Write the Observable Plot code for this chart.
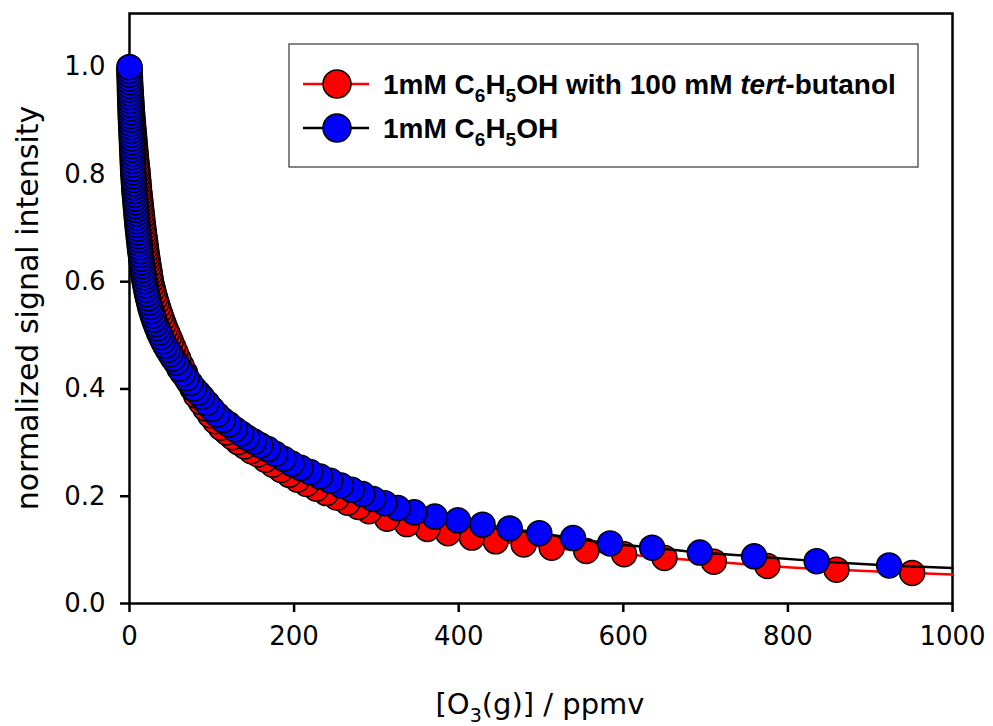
<!DOCTYPE html>
<html><head><meta charset="utf-8">
<script src="https://cdn.jsdelivr.net/npm/d3@7"></script>
<script src="https://cdn.jsdelivr.net/npm/@observablehq/plot@0.6"></script>
<style>body{margin:0;background:#fff} svg{display:block}</style>
</head><body><div id="chart"></div>
<script>
// ---- data ----
const xTicks = [0, 200, 400, 600, 800, 1000];
const yTicks = [0, 0.2, 0.4, 0.6, 0.8, 1.0];
const xLabelMain = "[O", xLabelSub = "3", xLabelRest = "(g)] / ppmv";
const yLabel = "normalized signal intensity";

// 1mM C6H5OH (blue symbols, black line)
const blueX = [
  0,0.05,0.1,0.2,0.3,0.4,0.5,0.6,0.75,0.9,1.05,1.2,1.35,1.5,1.7,1.9,2.1,2.3,2.5,2.7,2.9,3.1,3.3,3.5,3.7,3.9,4.1,4.3,4.5,
  4.8,5.1,5.4,5.7,6.0,6.4,6.8,7.2,7.6,8.0,8.4,8.8,9.2,9.6,10.1,10.6,11.1,11.6,12.1,12.6,13.1,13.7,14.3,14.9,15.5,16.1,16.8,17.5,18.3,
  19.25,20.25,21.3,22.5,23.8,25.1,26.6,28.2,29.9,31.8,33.8,35.9,38.3,40.8,43.5,46.5,49.7,53.1,56.8,60.7,64.9,69.3,73.8,78.4,83.2,
  88,94,100,106.5,113.5,120.7,128,135.5,143,151,159,168,177,187,197,208,219.5,231.5,244,257,270,283,296,
  310,326,346,371,399,429,462,498,539,584,635,693,759,835,923];
const blueY = [
  1.000,0.993,0.986,0.979,0.972,0.965,0.958,0.951,0.944,0.937,0.930,0.923,0.916,0.909,0.902,0.895,0.888,0.881,0.874,0.867,0.860,0.853,0.846,0.839,0.832,0.825,0.818,0.811,0.804,
  0.797,0.790,0.783,0.776,0.769,0.762,0.755,0.748,0.741,0.734,0.727,0.720,0.713,0.706,0.699,0.692,0.685,0.678,0.671,0.664,0.657,0.650,0.643,0.636,0.629,0.622,0.615,0.608,0.601,
  0.593,0.585,0.577,0.569,0.561,0.553,0.545,0.537,0.529,0.521,0.513,0.505,0.497,0.489,0.481,0.473,0.465,0.457,0.449,0.438,0.429,0.420,0.411,0.401,0.393,
  0.385,0.374,0.363,0.352,0.342,0.334,0.325,0.317,0.309,0.302,0.295,0.288,0.279,0.270,0.261,0.253,0.245,0.237,0.229,0.220,0.212,0.204,0.195,
  0.187,0.178,0.170,0.162,0.155,0.147,0.140,0.131,0.122,0.112,0.104,0.095,0.088,0.079,0.071];
const blueLineEnd = [1000, 0.066];

// 1mM C6H5OH with 100 mM tert-butanol (red symbols, red line)
const redX = [
  0,0.2,0.4,0.6,0.8,1.0,1.3,1.6,1.9,2.2,2.5,2.8,3.1,3.4,3.8,4.2,4.6,5.0,5.4,5.8,6.2,6.6,7.0,7.4,7.8,8.3,8.8,9.3,9.8,
  10.2,10.6,11.0,11.4,11.8,12.3,12.8,13.3,13.8,14.3,14.8,15.3,15.8,16.3,16.9,17.5,18.1,18.7,19.3,19.9,20.5,21.1,21.8,22.5,23.2,23.9,24.6,25.3,26.0,
  27.2,28.5,29.9,31.3,32.8,34.4,36.1,37.9,39.7,41.6,43.6,45.7,47.9,
  50.2,53.0,56.0,59.3,63.2,67.5,72,76.5,81,86.5,92,98,104,111,118,125,132,140,148,156,165,174,184,194,204,215,227,239,252,265,278,291,
  313,337,362,387,416,445,479,513,555,601,650,710,775,859,951];
const redY = [
  1.000,0.993,0.986,0.979,0.972,0.965,0.958,0.951,0.944,0.937,0.930,0.923,0.916,0.909,0.902,0.895,0.888,0.881,0.874,0.867,0.860,0.853,0.846,0.839,0.832,0.825,0.818,0.811,0.804,
  0.797,0.790,0.783,0.776,0.769,0.762,0.755,0.748,0.741,0.734,0.727,0.720,0.713,0.706,0.699,0.692,0.685,0.678,0.671,0.664,0.657,0.650,0.643,0.636,0.629,0.622,0.615,0.608,0.601,
  0.593,0.585,0.577,0.569,0.561,0.553,0.545,0.537,0.529,0.521,0.513,0.505,0.497,
  0.489,0.479,0.468,0.456,0.443,0.430,0.413,0.401,0.388,0.376,0.364,0.351,0.340,0.328,0.319,0.310,0.301,0.293,0.284,0.278,0.268,0.259,0.249,0.240,0.231,0.223,0.214,0.206,0.197,0.188,0.180,0.172,
  0.158,0.148,0.139,0.131,0.123,0.116,0.110,0.104,0.098,0.092,0.085,0.078,0.070,0.063,0.057];
const redLineEnd = [1000, 0.054];

// ---- build tables ----
const blue = blueX.map((x, i) => ({x, y: blueY[i]}));
const red = redX.map((x, i) => ({x, y: redY[i]}));
const blueLine = blue.concat([{x: blueLineEnd[0], y: blueLineEnd[1]}]);
const redLine = red.concat([{x: redLineEnd[0], y: redLineEnd[1]}]);

const FONT = "'DejaVu Sans', sans-serif";
const chart = Plot.plot({
  width: 993, height: 726,
  marginLeft: 129, marginRight: 41, marginTop: 13, marginBottom: 123,
  style: {fontFamily: FONT, fontSize: "26px", background: "#fff", color: "black", overflow: "visible"},
  x: {domain: [0, 1000], label: null},
  y: {domain: [0, 1.1], label: null},
  marks: [
    Plot.frame({stroke: "black", strokeWidth: 2.5}),
    Plot.axisX({ticks: xTicks, tickSize: 9, tickPadding: 14, strokeWidth: 2.5, tickFormat: d => String(d), label: null}),
    Plot.axisY({ticks: yTicks, tickSize: 9, tickPadding: 15, strokeWidth: 2.5, tickFormat: d => d.toFixed(1), label: null}),
    Plot.line(redLine, {x: "x", y: "y", stroke: "#ff0000", strokeWidth: 2.5, curve: "catmull-rom"}),
    Plot.dot(red.slice().reverse(), {x: "x", y: "y", r: 12.5, fill: "#ff0000", stroke: "black", strokeWidth: 1.5}),
    Plot.line(blueLine, {x: "x", y: "y", stroke: "black", strokeWidth: 2.5, curve: "catmull-rom"}),
    Plot.dot(blue.slice().reverse(), {x: "x", y: "y", r: 12.5, fill: "#0000ff", stroke: "black", strokeWidth: 1.5})
  ]
});
document.getElementById("chart").appendChild(chart);

const svg = d3.select(chart);
// axis titles
svg.append("text")
  .attr("transform", "translate(38,308) rotate(-90)")
  .attr("text-anchor", "middle")
  .style("font-family", FONT).style("font-size", "30px").attr("fill", "black")
  .text(yLabel);
const xl = svg.append("text")
  .attr("x", 540).attr("y", 714).attr("text-anchor", "middle")
  .style("font-family", FONT).style("font-size", "29px").attr("fill", "black");
xl.append("tspan").text(xLabelMain);
xl.append("tspan").attr("dy", 8).style("font-size", "19px").text(xLabelSub);
xl.append("tspan").attr("dy", -8).text(xLabelRest);

// legend
const lg = svg.append("g");
lg.append("rect").attr("x", 289).attr("y", 44).attr("width", 629).attr("height", 123)
  .attr("fill", "white").attr("stroke", "#444").attr("stroke-width", 1.3);
const rows = [
  {y: 84, line: "#ff0000", fill: "#ff0000", parts: [["1mM C"],["6","sub"],["H"],["5","sub"],["OH with 100 mM "],["tert","i"],["-butanol"]]},
  {y: 128, line: "black", fill: "#0000ff", parts: [["1mM C"],["6","sub"],["H"],["5","sub"],["OH"]]}
];
rows.forEach(r => {
  lg.append("line").attr("x1", 303).attr("x2", 369).attr("y1", r.y).attr("y2", r.y)
    .attr("stroke", r.line).attr("stroke-width", 2.5);
  lg.append("circle").attr("cx", 337).attr("cy", r.y).attr("r", 14)
    .attr("fill", r.fill).attr("stroke", "black").attr("stroke-width", 1.5);
  const t = lg.append("text").attr("x", 383).attr("y", r.y + 10).attr("text-anchor", "start")
    .style("font-family", "'Liberation Sans', Arial, sans-serif").style("font-size", "28px")
    .style("font-weight", "bold").attr("fill", "black");
  let shifted = false;
  r.parts.forEach(([s, kind]) => {
    const ts = t.append("tspan").text(s);
    if (kind === "sub") { ts.attr("dy", shifted ? 0 : 8).style("font-size", "19px"); shifted = true; }
    else { if (shifted) ts.attr("dy", -8); shifted = false; if (kind === "i") ts.style("font-style", "italic"); }
  });
});
</script>
</body></html>
